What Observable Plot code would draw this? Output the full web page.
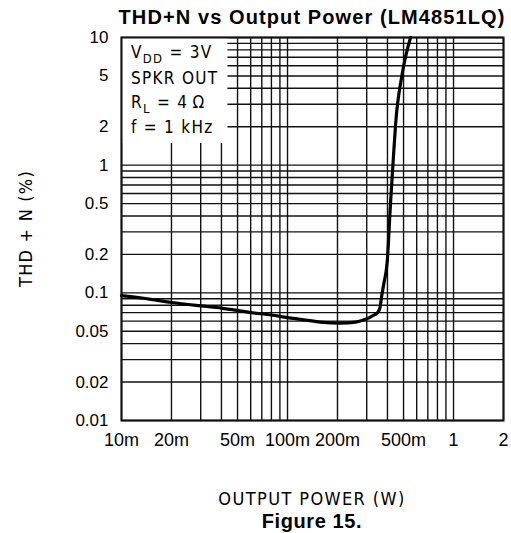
<!DOCTYPE html>
<html><head><meta charset="utf-8">
<script src="https://cdn.jsdelivr.net/npm/d3@7"></script>
<script src="https://cdn.jsdelivr.net/npm/@observablehq/plot@0.6"></script>
<style>
html,body{margin:0;padding:0;background:#fff;}
svg{display:block;}
</style>
</head><body><div id="chart"></div>
<script>
// ---- data ----
const outputPowerW = [0.01, 0.015, 0.02, 0.03, 0.04, 0.06, 0.08, 0.1, 0.12, 0.158, 0.208, 0.257, 0.295, 0.325, 0.349, 0.361, 0.368, 0.379, 0.399, 0.417, 0.433, 0.448, 0.491, 0.551];
const thdNPercent  = [0.095, 0.089, 0.084, 0.079, 0.076, 0.070, 0.067, 0.064, 0.062, 0.059, 0.058, 0.059, 0.062, 0.066, 0.070, 0.077, 0.092, 0.115, 0.178, 0.495, 1.08, 2.11, 5.2, 10];

const xTickValues = [0.01, 0.02, 0.05, 0.1, 0.2, 0.5, 1, 2];
const xTickLabels = ["10m", "20m", "50m", "100m", "200m", "500m", "1", "2"];
const yTickValues = [0.01, 0.02, 0.05, 0.1, 0.2, 0.5, 1, 2, 5, 10];
const yTickLabels = ["0.01", "0.02", "0.05", "0.1", "0.2", "0.5", "1", "2", "5", "10"];

const xGridValues = [0.01, 0.02, 0.03, 0.04, 0.05, 0.06, 0.07, 0.08, 0.09,
                     0.1, 0.2, 0.3, 0.4, 0.5, 0.6, 0.7, 0.8, 0.9, 1, 2];
const yGridValues = [0.01, 0.02, 0.03, 0.04, 0.05, 0.06, 0.07, 0.08, 0.09,
                     0.1, 0.2, 0.3, 0.4, 0.5, 0.6, 0.7, 0.8, 0.9,
                     1, 2, 3, 4, 5, 6, 7, 8, 9, 10];

const titleText = "THD+N vs Output Power (LM4851LQ)";
const xLabelText = "OUTPUT POWER (W)";
const yLabelText = "THD + N (%)";
const captionText = "Figure 15.";
const conditionLines = [
  [["V", ""], ["DD", "sub"], [" = 3V", ""]],
  [["SPKR OUT", ""]],
  [["R", ""], ["L", "sub"], [" = 4\u2009\u03A9", ""]],
  [["f = 1 kHz", ""]]
];

(function () {
const curveData = outputPowerW.map((p, i) => ({p, thd: thdNPercent[i]}));
const xTicks = xTickValues.map((v, i) => ({v, label: xTickLabels[i]}));
const yTicks = yTickValues.map((v, i) => ({v, label: yTickLabels[i]}));
const sans = "'Liberation Sans', Arial, sans-serif";

const W = 511, H = 533;
const plot = Plot.plot({
  width: W, height: H,
  marginLeft: 121, marginRight: 8, marginTop: 37, marginBottom: 113,
  style: {fontFamily: sans, fontSize: "17px", background: "#fff", color: "#000"},
  x: {type: "log", domain: [0.01, 2], axis: null},
  y: {type: "log", domain: [0.01, 10], axis: null},
  marks: [
    Plot.ruleX(xGridValues, {stroke: "#111", strokeWidth: 1.4}),
    Plot.ruleY(yGridValues, {stroke: "#111", strokeWidth: 1.4}),
    Plot.line(curveData, {x: "p", y: "thd", stroke: "#000", strokeWidth: 3.2, curve: "monotone-x"}),
    Plot.frame({stroke: "#111", strokeWidth: 2}),
    Plot.text(xTicks, {x: "v", text: "label", frameAnchor: "bottom", dy: 25, fontSize: 18, fill: "#000", textAnchor: "middle"}),
    Plot.text(yTicks, {y: "v", text: "label", frameAnchor: "left", dx: -13, fontSize: 17, fill: "#000", textAnchor: "end"})
  ]
});
document.getElementById("chart").appendChild(plot);

const svg = d3.select(plot);
const xs = plot.scale("x"), ys = plot.scale("y");
const fLeft = xs.apply(0.01), fRight = xs.apply(2), fTop = ys.apply(10), fBottom = ys.apply(0.01);
const cx = (fLeft + fRight) / 2;
const condFont = "'DejaVu Sans Condensed', 'DejaVu Sans', sans-serif";

// conditions box (white panel covering the grid in the upper-left corner)
const rules = svg.selectAll('g[aria-label="rule"]').nodes();
const lastRule = rules[rules.length - 1];
const boxG = document.createElementNS("http://www.w3.org/2000/svg", "g");
lastRule.parentNode.insertBefore(boxG, lastRule.nextSibling);
const bg = d3.select(boxG);
const rect = bg.append("rect").attr("fill", "#fff");
const tg = bg.append("g")
  .attr("font-family", condFont).attr("font-size", 17).attr("letter-spacing", 1.3)
  .attr("text-anchor", "start").attr("fill", "#000");
const baselines = [58, 84, 108, 133];
conditionLines.forEach((parts, i) => {
  const t = tg.append("text").attr("x", fLeft + 10).attr("y", baselines[i]).attr("xml:space", "preserve");
  let prevSub = false;
  parts.forEach(([s, kind]) => {
    const ts = t.append("tspan").text(s);
    if (kind === "sub") { ts.attr("font-size", 13).attr("dy", 5); prevSub = true; }
    else if (prevSub) { ts.attr("dy", -5); prevSub = false; }
  });
});
const bb = tg.node().getBBox();
rect.attr("x", fLeft).attr("y", fTop)
    .attr("width", bb.x + bb.width + 9 - fLeft)
    .attr("height", bb.y + bb.height + 6 - fTop);

// title, axis labels, caption
svg.append("text").attr("x", cx).attr("y", 24).attr("text-anchor", "middle")
  .attr("font-family", sans).attr("font-weight", "bold").attr("font-size", 20).attr("letter-spacing", 1.1)
  .text(titleText);
svg.append("text").attr("x", cx).attr("y", 505).attr("text-anchor", "middle")
  .attr("font-family", condFont).attr("font-size", 18).attr("letter-spacing", 1.4)
  .text(xLabelText);
svg.append("text").attr("transform", `translate(32,${(fTop + fBottom) / 2}) rotate(-90)`).attr("text-anchor", "middle")
  .attr("font-family", condFont).attr("font-size", 18).attr("letter-spacing", 1.2)
  .text(yLabelText);
svg.append("text").attr("x", cx).attr("y", 528).attr("text-anchor", "middle")
  .attr("font-family", sans).attr("font-weight", "bold").attr("font-size", 20).attr("letter-spacing", 0.6)
  .text(captionText);
})();
</script>
</body></html>
